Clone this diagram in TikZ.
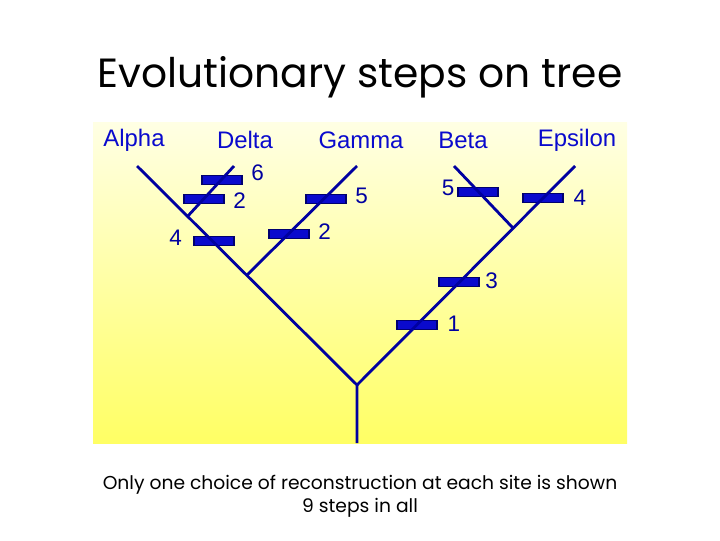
\documentclass[tikz,border=0pt]{standalone}
\usepackage{fontspec}
\setmainfont{Liberation Sans}
\newfontfamily\comicfont{Poppins}
\usetikzlibrary{positioning}
\definecolor{treeblue}{RGB}{0,0,160}
\definecolor{barblue}{RGB}{10,10,205}
\definecolor{paneltop}{RGB}{255,255,228}
\definecolor{panelbot}{RGB}{255,255,100}

\begin{document}
\begin{tikzpicture}[x=0.025cm, y=-0.025cm,
        branch/.style={treeblue, line width=2pt},
        mut/.style={draw=treeblue!70!black, fill=barblue, line width=0.8pt,
            minimum width=1cm, minimum height=0.23cm, inner sep=0pt},
        taxon/.style={text=barblue, font=\fontsize{17}{20}\selectfont},
        count/.style={text=treeblue, inner sep=1pt, font=\fontsize{16}{19}\selectfont}]
            \useasboundingbox (0,0) rectangle (720,540);

            % Panel
            \shade[top color=paneltop, bottom color=panelbot] (93,122) rectangle (627,443);

            % Taxa
            \node[taxon] (talpha) at (134,140) {Alpha};
            \node[taxon] (tdelta) at (245,140) {Delta};
            \node[taxon] (tgamma) at (361,140) {Gamma};
            \node[taxon] (tbeta) at (463,140) {Beta};
            \node[taxon] (tepsilon) at (577,140) {Epsilon};

            % Tree points
            \coordinate (root) at (357,443);
            \coordinate (fork) at (357,385);
            \coordinate (alpha) at (137,166);
            \coordinate (delta) at (234,166);
            \coordinate (gamma) at (357,166);
            \coordinate (beta) at (454,166);
            \coordinate (epsilon) at (575,166);
            \coordinate (dj) at (187,217);
            \coordinate (gj) at (247,275);
            \coordinate (bj) at (513,228);

            % Steps
            \node[mut] (d6) at (222,180) {};
            \node[mut] (d2) at (204,199) {};
            \node[mut] (a4) at (214,241) {};
            \node[mut] (g2) at (289,234) {};
            \node[mut] (g5) at (326,199) {};
            \node[mut] (b5) at (478,192) {};
            \node[mut] (e4) at (543,198) {};
            \node[mut] (r3) at (459,282) {};
            \node[mut] (r1) at (417,325) {};

            % Branches
            \draw[branch] (root) -- (fork) -- (alpha);
            \draw[branch] (fork) -- (epsilon);
            \draw[branch] (dj) -- (delta);
            \draw[branch] (gj) -- (gamma);
            \draw[branch] (bj) -- (beta);

            % Step counts
            \node[count, right=5pt of d6, yshift=5pt] (n6) {6};
            \node[count, right=5pt of d2, yshift=-1pt] (n2a) {2};
            \node[count, left=7pt of a4, yshift=2pt] (n4a) {4};
            \node[count, right=5pt of g2, yshift=2pt] (n2b) {2};
            \node[count, right=5pt of g5, yshift=2pt] (n5a) {5};
            \node[count, left=1pt of b5, yshift=3pt] (n5b) {5};
            \node[count, right=6pt of e4] (n4b) {4};
            \node[count, right=3pt of r3, yshift=1pt] (n3) {3};
            \node[count, right=6pt of r1, yshift=1pt] (n1) {1};

            % Title and note
            \node[font=\comicfont\fontsize{29}{35}\selectfont] (title) at (360,77) {Evolutionary steps on tree};
            \node[font=\comicfont\fontsize{13.3}{16.5}\selectfont, align=center] (note) at (360,496)
                {Only one choice of reconstruction at each site is shown\\ 9 steps in all};
        \end{tikzpicture}
\end{document}
